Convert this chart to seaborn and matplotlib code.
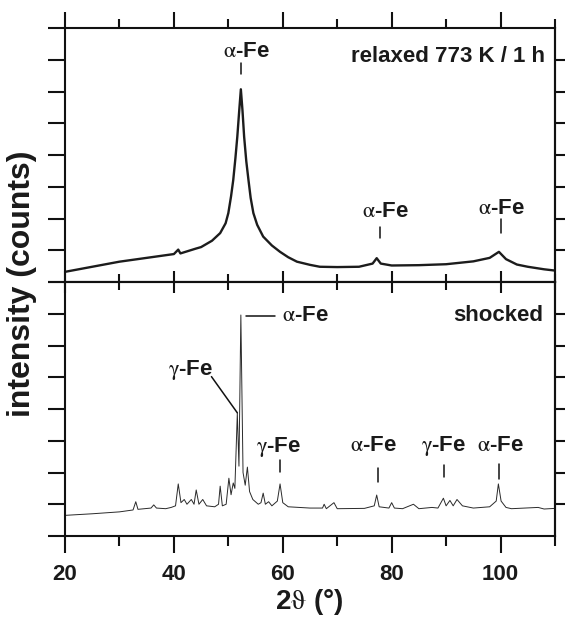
import matplotlib
matplotlib.use("Agg")
import matplotlib.pyplot as plt
from matplotlib.ticker import MultipleLocator, FixedLocator
import seaborn as sns
import pandas as pd

# ---------------- data ----------------
relaxed_2theta = [20, 25, 30, 35, 40, 40.8, 41.2, 44, 45, 47, 48.5, 49.5, 50.0, 50.5,
                  50.9, 51.3, 51.65, 52.0, 52.3, 52.6, 52.9, 53.3, 53.7, 54.1, 54.6,
                  55.3, 56.4, 58, 59.5, 61, 62.6, 65, 66.8, 70, 74, 76.5, 77.25, 78,
                  80, 85, 90, 95, 98, 99.7, 101, 103, 105, 108, 110]
relaxed_counts = [0.32, 0.48, 0.64, 0.76, 0.88, 1.02, 0.90, 1.05, 1.10, 1.30, 1.54, 1.85,
                  2.17, 2.70, 3.21, 3.90, 4.58, 5.40, 6.07, 5.40, 4.58, 3.80, 3.21, 2.65,
                  2.17, 1.80, 1.43, 1.15, 0.95, 0.78, 0.64, 0.54, 0.48, 0.47, 0.48, 0.58,
                  0.75, 0.58, 0.52, 0.53, 0.56, 0.65, 0.76, 0.95, 0.72, 0.55, 0.48, 0.40,
                  0.36]

shocked_2theta = [20, 25, 30, 32.5, 33.0, 33.4, 35.8, 36.3, 36.8, 38.5, 39.5, 40.3, 40.8,
                  41.3, 41.9, 42.4, 43.2, 43.7, 44.1, 44.6, 45.3, 46, 47.5, 48.2, 48.5,
                  48.9, 49.6, 50.1, 50.5, 50.9, 51.2, 51.65, 51.95, 52.3, 52.7, 53.1,
                  53.5, 53.9, 54.5, 55.5, 56.0, 56.4, 56.8, 57.4, 58.0, 59.0, 59.5, 60.0,
                  61, 63, 65, 67.3, 67.6, 68, 69.4, 70, 75, 76.8, 77.25, 77.7, 79.5, 80.0,
                  80.5, 82, 84.0, 85, 87.4, 88.5, 89.5, 90.0, 90.7, 91.3, 92.0, 93, 95,
                  98, 99.2, 99.6, 100.1, 101, 102, 106.9, 108, 110]
shocked_counts = [0.65, 0.70, 0.76, 0.82, 1.08, 0.84, 0.88, 0.98, 0.88, 0.86, 0.90, 0.95,
                  1.64, 1.05, 1.15, 1.00, 1.15, 1.00, 1.45, 1.00, 1.15, 0.95, 0.92, 1.00,
                  1.57, 0.95, 1.00, 1.82, 1.30, 1.67, 1.50, 3.87, 2.20, 6.96, 2.00, 1.60,
                  2.17, 1.40, 1.15, 1.00, 1.05, 1.35, 1.00, 1.08, 0.95, 1.10, 1.64, 1.05,
                  0.92, 0.90, 0.88, 0.88, 1.00, 0.86, 1.05, 0.86, 0.87, 0.95, 1.29, 0.92,
                  0.88, 1.05, 0.88, 0.86, 1.00, 0.86, 0.90, 0.88, 1.19, 0.95, 1.12, 0.95,
                  1.15, 0.95, 0.88, 0.92, 1.10, 1.64, 1.10, 0.90, 0.86, 0.90, 0.85, 0.87]

x_ticks = [20, 40, 60, 80, 100]
x_tick_labels = ["20", "40", "60", "80", "100"]

ALPHA = r"$\mathrm{\alpha}$-Fe"
GAMMA = r"$\mathrm{\gamma}$-Fe"
label_relaxed = "relaxed 773 K / 1 h"
label_shocked = "shocked"
y_label = "intensity (counts)"
x_label = r"2$\mathrm{\vartheta}$ (°)"

# ---------------- style ----------------
sns.set_theme(style="ticks")
plt.rcParams["font.family"] = ["Liberation Sans", "DejaVu Sans"]
plt.rcParams["mathtext.fontset"] = "stix"
plt.rcParams["axes.linewidth"] = 1.5

W, H = 569, 618
fig = plt.figure(figsize=(W / 100, H / 100), dpi=100)
left, right = 65 / W, 555 / W
y_top, y_mid, y_bot = 1 - 28 / H, 1 - 282 / H, 1 - 536 / H
ax_top = fig.add_axes([left, y_mid, right - left, y_top - y_mid])
ax_bot = fig.add_axes([left, y_bot, right - left, y_mid - y_bot])

LC = "#1c1c1c"
df_top = pd.DataFrame({"x": relaxed_2theta, "y": relaxed_counts})
df_bot = pd.DataFrame({"x": shocked_2theta, "y": shocked_counts})
sns.lineplot(data=df_top, x="x", y="y", ax=ax_top, color=LC, linewidth=1.7,
             estimator=None, sort=False)
sns.lineplot(data=df_bot, x="x", y="y", ax=ax_bot, color="#2a2a2a", linewidth=0.7,
             estimator=None, sort=False)

for ax in (ax_top, ax_bot):
    ax.set_xlim(20, 110)
    ax.set_ylim(0, 8)
    ax.set_xlabel("")
    ax.set_ylabel("")
    for s in ax.spines.values():
        s.set_visible(True)
        s.set_linewidth(1.5)
        s.set_color("#111111")
    ax.xaxis.set_major_locator(FixedLocator(x_ticks))
    ax.xaxis.set_minor_locator(MultipleLocator(10))
    ax.yaxis.set_major_locator(FixedLocator(list(range(0, 9))))
    ax.tick_params(axis="y", which="major", direction="out", length=12, width=1.5,
                   left=True, right=False, labelleft=False, color="#111111")
    secy = ax.secondary_yaxis("right")
    secy.yaxis.set_major_locator(FixedLocator(list(range(1, 8))))
    secy.tick_params(axis="y", which="major", direction="out", length=7, width=1.5,
                     labelright=False, color="#111111")
    secy.spines["right"].set_linewidth(1.5)

# top panel x ticks: outward on the top spine only
ax_top.tick_params(axis="x", which="both", top=True, bottom=False,
                   labeltop=False, labelbottom=False, direction="out", width=1.5,
                   color="#111111")
ax_top.tick_params(axis="x", which="major", length=11.5)
ax_top.tick_params(axis="x", which="minor", length=6.5)

# bottom panel x ticks: outward on the bottom, crossing on the shared boundary
ax_bot.tick_params(axis="x", which="both", top=False, bottom=True, direction="out",
                   width=1.5, color="#111111")
ax_bot.tick_params(axis="x", which="major", length=12, pad=8)
ax_bot.tick_params(axis="x", which="minor", length=7)
ax_bot.set_xticks(x_ticks)
ax_bot.set_xticklabels(x_tick_labels, fontsize=16, fontweight="bold", color="#1a1a1a")
secx = ax_bot.secondary_xaxis("top")
secx.xaxis.set_major_locator(FixedLocator(x_ticks))
secx.xaxis.set_minor_locator(MultipleLocator(10))
secx.tick_params(axis="x", which="both", direction="inout", width=1.5,
                 labeltop=False, color="#111111")
secx.tick_params(axis="x", which="major", length=16)
secx.tick_params(axis="x", which="minor", length=12)

# ---------------- annotations ----------------
tk = dict(fontsize=16, fontweight="bold", color="#1a1a1a")
lk = dict(color="#111111", linewidth=1.1)

# top panel
ax_top.text(53.4, 7.25, ALPHA, ha="center", va="center", **tk)
ax_top.plot([52.3, 52.3], [6.55, 6.91], **lk)
ax_top.text(78.9, 2.21, ALPHA, ha="center", va="center", **tk)
ax_top.plot([77.9, 77.9], [1.38, 1.74], **lk)
ax_top.text(100.2, 2.32, ALPHA, ha="center", va="center", **tk)
ax_top.plot([100.1, 100.1], [1.53, 2.0], **lk)
ax_top.text(108.2, 7.09, label_relaxed, ha="right", va="center", **tk)

# bottom panel
ax_bot.plot([53.25, 58.6], [6.93, 6.93], **lk)
ax_bot.text(59.8, 6.93, ALPHA, ha="left", va="center", **tk)
ax_bot.text(43.05, 5.23, GAMMA, ha="center", va="center", **tk)
ax_bot.plot([46.9, 51.65], [5.02, 3.88], **lk)
ax_bot.text(59.3, 2.81, GAMMA, ha="center", va="center", **tk)
ax_bot.plot([59.5, 59.5], [2.03, 2.39], **lk)
ax_bot.text(76.55, 2.84, ALPHA, ha="center", va="center", **tk)
ax_bot.plot([77.4, 77.4], [1.71, 2.15], **lk)
ax_bot.text(89.5, 2.84, GAMMA, ha="center", va="center", **tk)
ax_bot.plot([89.6, 89.6], [1.87, 2.24], **lk)
ax_bot.text(99.9, 2.84, ALPHA, ha="center", va="center", **tk)
ax_bot.plot([99.7, 99.7], [1.80, 2.27], **lk)
ax_bot.text(107.9, 6.96, label_shocked, ha="right", va="center", **tk)

# axis labels
fig.text(22 / W, 1 - 284 / H, y_label, rotation=90, ha="center", va="center",
         fontsize=23, fontweight="bold", color="#1a1a1a")
fig.text(309 / W, 1 - 602 / H, x_label, ha="center", va="center",
         fontsize=20, fontweight="bold", color="#1a1a1a")

fig.savefig("out.png", dpi=100)
